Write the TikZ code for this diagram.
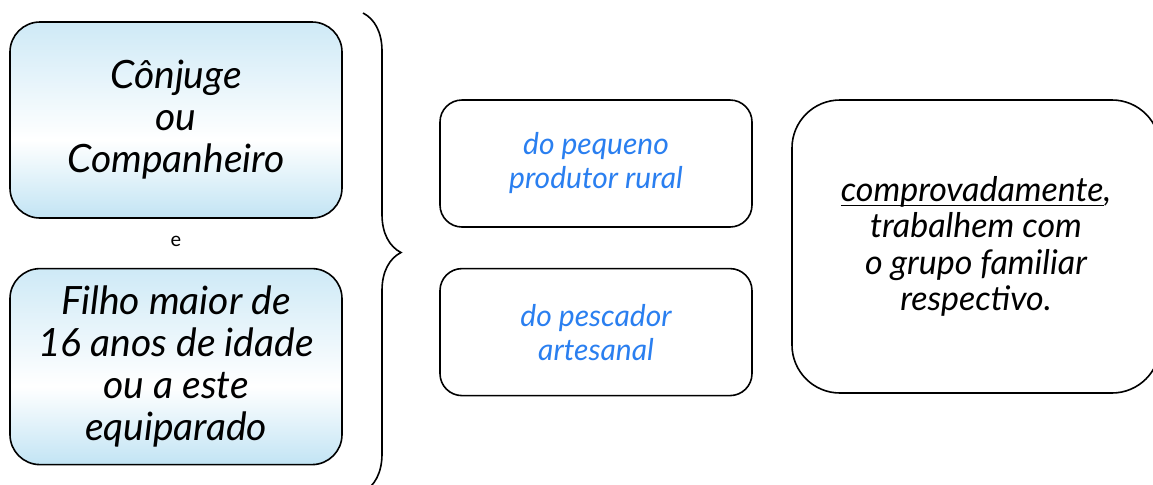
\documentclass[tikz,border=0pt]{standalone}
\usepackage{fontspec}
\setmainfont{Lato}
\usepackage{xcolor}
\usetikzlibrary{positioning,decorations.pathreplacing}

\definecolor{paleblue}{HTML}{C2E4F4}
\definecolor{textblue}{HTML}{2A7FF0}
\pgfdeclareverticalshading{boxfade}{100bp}{color(0bp)=(paleblue); color(25bp)=(paleblue);
  color(45bp)=(white); color(75bp)=(paleblue!80); color(100bp)=(paleblue!80)}
\newcommand\ulword[1]{\setbox0\hbox{#1}\rlap{\rule[-2.2pt]{\wd0}{0.6pt}}\box0}

\begin{document}
\begin{tikzpicture}[x=0.5pt, y=-0.5pt,
  who/.style={draw, line width=0.8pt, rounded corners=15pt, minimum width=166pt, minimum height=98pt,
    align=center, font=\fontsize{19.5}{21}\selectfont\itshape, shading=boxfade},
  kind/.style={draw, line width=0.8pt, rounded corners=11pt, fill=white, minimum width=156pt, minimum height=63.5pt,
    align=center, text=textblue, font=\fontsize{15}{17}\selectfont\itshape},
  cond/.style={draw, line width=0.8pt, rounded corners=24pt, fill=white, minimum width=184pt, minimum height=146.5pt,
    align=center, font=\fontsize{17}{18.2}\selectfont\itshape},
  node distance=24.5pt
]
\useasboundingbox (0,0) rectangle (1153,484);

% Left column: who is covered
\node[who] (conj) at (176,120) {Cônjuge\\ou\\Companheiro};
\node[who, below=of conj] (filho) {Filho maior de\\16 anos de idade\\ou a este\\equiparado};
\node[font=\fontsize{10}{11}\selectfont] (e) at (176,241) {e};

% Brace grouping both
\draw[line width=0.8pt, decorate, decoration={brace, amplitude=19pt}] (363,13) -- (363,492);

% Middle column: activity
\node[kind] (rural) at (596,163.5) {do pequeno\\produtor rural};
\node[kind, below=20pt of rural] (pesca) {do pescador\\artesanal};

% Right: condition
\node[cond] (trab) at (976,246.5) {\ulword{comprovadamente},\\trabalhem com\\o grupo familiar\\respectivo.};

\end{tikzpicture}
\end{document}
